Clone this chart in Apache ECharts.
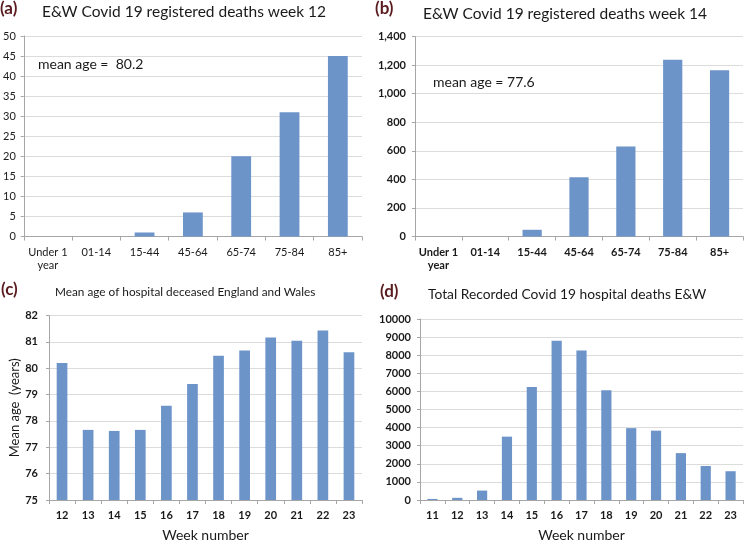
<!DOCTYPE html>
<html><head><meta charset="utf-8">
<script src="https://cdn.jsdelivr.net/npm/echarts@6/dist/echarts.min.js"></script>
<style>html,body{margin:0;padding:0;background:#fff}#c{width:746px;height:543px}</style>
</head><body><div id="c"></div>
<script>
const ageGroups = ['Under 1\nyear','01-14','15-44','45-64','65-74','75-84','85+'];
const deathsWeek12 = [0, 0, 1, 6, 20, 31, 45];
const deathsWeek14 = [0, 0, 47, 415, 630, 1237, 1164];
const weeksC = ['12','13','14','15','16','17','18','19','20','21','22','23'];
const meanAge = [80.2, 77.66, 77.62, 77.66, 78.58, 79.4, 80.47, 80.67, 81.17, 81.04, 81.43, 80.61];
const weeksD = ['11','12','13','14','15','16','17','18','19','20','21','22','23'];
const hospitalDeaths = [60, 120, 520, 3500, 6240, 8800, 8260, 6060, 3970, 3830, 2590, 1880, 1590];

const FONT = 'Lato, "DejaVu Sans", sans-serif';
const BAR = '#6c94c9';
const AX = '#a6a6a6';
const GRID = '#dcdcdc';
const MAROON = '#5a1b1e';

function xAxis(idx, data, bold, name) {
  const o = {
    type: 'category', gridIndex: idx, data: data,
    axisLine: {lineStyle: {color: AX}},
    axisTick: {show: true, length: 4, lineStyle: {color: AX}},
    axisLabel: {color: '#1a1a1a', fontFamily: FONT, fontSize: 11, fontWeight: bold ? 'bold' : 'normal', margin: 9, lineHeight: 13, interval: 0},
    splitLine: {show: false}
  };
  if (name) {
    o.name = name; o.nameLocation = 'middle'; o.nameGap = 28;
    o.nameTextStyle = {color: '#1a1a1a', fontFamily: FONT, fontSize: 14};
  }
  return o;
}
function yAxis(idx, min, max, interval, bold, fmt, margin) {
  return {
    type: 'value', gridIndex: idx, min: min, max: max, interval: interval,
    axisLine: {show: true, lineStyle: {color: AX}},
    axisTick: {show: true, length: 3, lineStyle: {color: AX}},
    axisLabel: {color: '#1a1a1a', fontFamily: FONT, fontSize: 11, fontWeight: bold ? 'bold' : 'normal', margin: margin, formatter: fmt},
    splitLine: {lineStyle: {color: GRID, width: 1}}
  };
}
function commas(v) { return String(v).replace(/\B(?=(\d{3})+(?!\d))/g, ','); }
function plain(v) { return String(v); }

const chart = echarts.init(document.getElementById('c'), null, {renderer: 'canvas'});
const yC = yAxis(2, 75, 82, 1, true, plain, 11);
yC.name = 'Mean age  (years)'; yC.nameLocation = 'middle'; yC.nameGap = 24; yC.nameRotate = 90;
yC.nameTextStyle = {color: '#1a1a1a', fontFamily: FONT, fontSize: 13};

const titleStyle = (size) => ({color: '#1a1a1a', fontFamily: FONT, fontSize: size, fontWeight: 'normal'});
const tagStyle = {color: MAROON, fontFamily: FONT, fontSize: 17, fontWeight: 'bold'};

chart.setOption({
  animation: false,
  backgroundColor: '#fff',
  title: [
    {text: '(a)', left: 0, top: 0, textStyle: tagStyle, padding: 0},
    {text: 'E&W Covid 19 registered deaths week 12', left: 42, top: 4, textStyle: titleStyle(15.5), padding: 0},
    {text: '(b)', left: 375, top: 0, textStyle: tagStyle, padding: 0},
    {text: 'E&W Covid 19 registered deaths week 14', left: 423, top: 6, textStyle: titleStyle(15.5), padding: 0},
    {text: '(c)', left: 1, top: 281, textStyle: tagStyle, padding: 0},
    {text: 'Mean age of hospital deceased England and Wales', left: 55, top: 286, textStyle: titleStyle(11.8), padding: 0},
    {text: '(d)', left: 380, top: 283, textStyle: tagStyle, padding: 0},
    {text: 'Total Recorded Covid 19 hospital deaths E&W', left: 428, top: 288, textStyle: titleStyle(13.8), padding: 0}
  ],
  graphic: [
    {type: 'text', left: 38, top: 57, style: {text: 'mean age =  80.2', font: '14px ' + FONT, fill: '#1a1a1a'}},
    {type: 'text', left: 433, top: 75, style: {text: 'mean age = 77.6', font: '14px ' + FONT, fill: '#1a1a1a'}}
  ],
  grid: [
    {left: 21, top: 36, width: 341, height: 200.5},
    {left: 415, top: 36.5, width: 328, height: 200},
    {left: 49, top: 315.5, width: 313, height: 188},
    {left: 420, top: 319, width: 323, height: 186.5}
  ],
  xAxis: [
    xAxis(0, ageGroups, false),
    xAxis(1, ageGroups, true),
    xAxis(2, weeksC, true, 'Week number'),
    xAxis(3, weeksD, true, 'Week number')
  ],
  yAxis: [
    yAxis(0, 0, 50, 5, false, plain, 8),
    yAxis(1, 0, 1400, 200, true, commas, 9),
    yC,
    yAxis(3, 0, 10000, 1000, true, plain, 9)
  ],
  series: [
    {type: 'bar', xAxisIndex: 0, yAxisIndex: 0, data: deathsWeek12, barWidth: '41%', itemStyle: {color: BAR}},
    {type: 'bar', xAxisIndex: 1, yAxisIndex: 1, data: deathsWeek14, barWidth: '41%', itemStyle: {color: BAR}},
    {type: 'bar', xAxisIndex: 2, yAxisIndex: 2, data: meanAge, barWidth: '41%', itemStyle: {color: BAR}},
    {type: 'bar', xAxisIndex: 3, yAxisIndex: 3, data: hospitalDeaths, barWidth: '41%', itemStyle: {color: BAR}}
  ]
});
</script></body></html>
